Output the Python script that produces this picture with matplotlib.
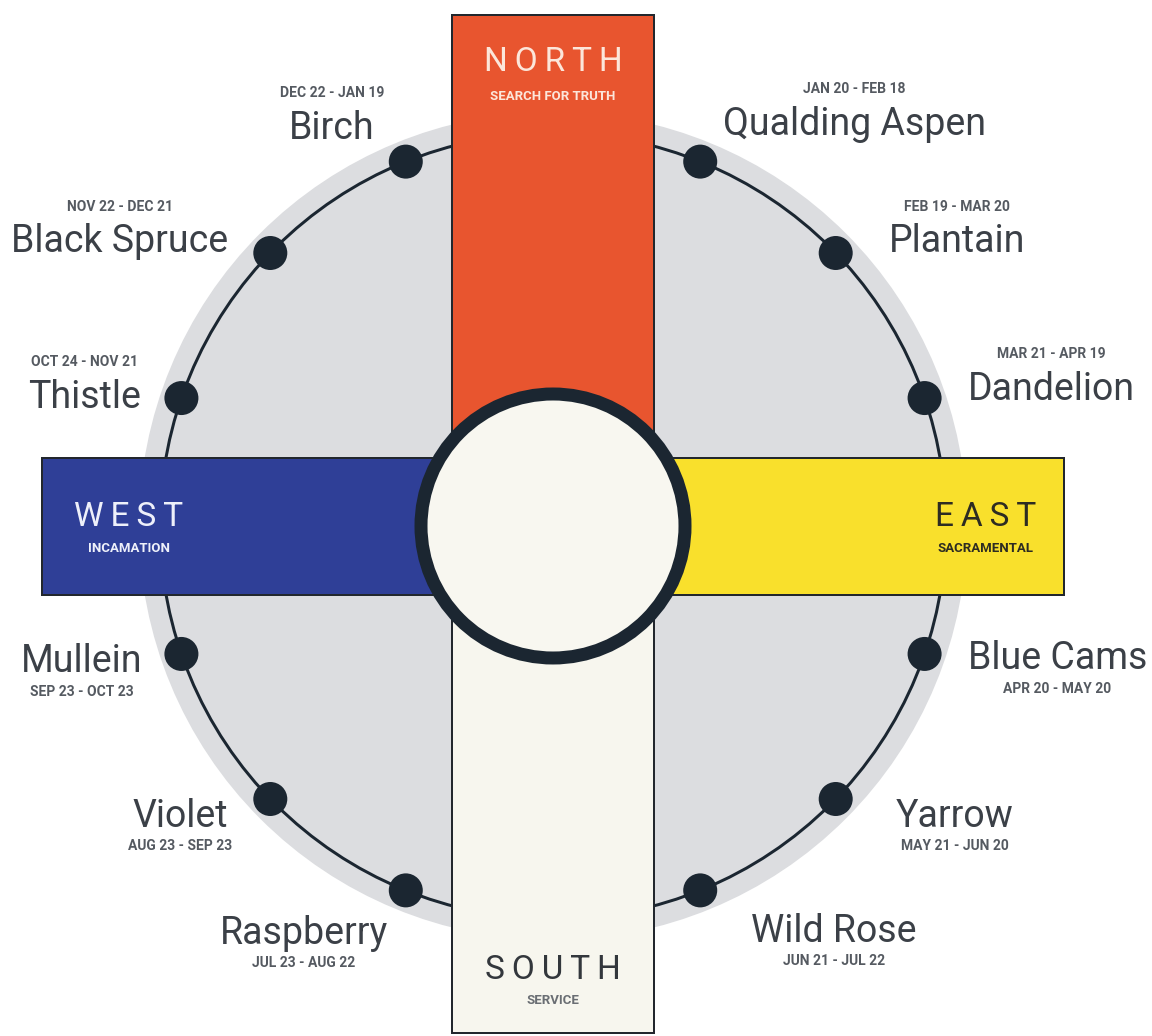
import numpy as np
import matplotlib
matplotlib.use('Agg')
import matplotlib.pyplot as plt
from matplotlib.patches import Circle, Rectangle

plt.rcParams['font.family'] = ['Roboto', 'DejaVu Sans']

# --- data -------------------------------------------------------------
plants = ['Dandelion', 'Plantain', 'Qualding Aspen', 'Birch', 'Black Spruce', 'Thistle',
          'Mullein', 'Violet', 'Raspberry', 'Wild Rose', 'Yarrow', 'Blue Cams']
dates = ['MAR 21 - APR 19', 'FEB 19 - MAR 20', 'JAN 20 - FEB 18', 'DEC 22 - JAN 19',
         'NOV 22 - DEC 21', 'OCT 24 - NOV 21', 'SEP 23 - OCT 23', 'AUG 23 - SEP 23',
         'JUL 23 - AUG 22', 'JUN 21 - JUL 22', 'MAY 21 - JUN 20', 'APR 20 - MAY 20']
# angle of each plant on the wheel (deg, counter-clockwise from east)
angles = [19, 44, 68, 112, 136, 161, 199, 224, 248, 292, 316, 341]

directions = ['NORTH', 'WEST', 'EAST', 'SOUTH']
subtitles = ['SEARCH FOR TRUTH', 'INCAMATION', 'SACRAMENTAL', 'SERVICE']
dir_colors = ['#e8552f', '#2f3f97', '#f9e02c', '#f7f6ee']
dir_text = ['#fce6da', '#eef0fa', '#2d2c22', '#33373c']

# --- layout (pixels) ----------------------------------------------------
W, H = 1152, 1036
cx, cy = 553, 526
r_ring, r_gray, r_dot, r_hub = 393, 414, 17, 132
bar_w = 202      # vertical bar width
bar_h = 137      # horizontal bar height
arm = 511        # bar length from centre
dark = '#1b2631'

# name anchor offsets from each dot: (dx, dy, ha)
name_off = [(43, -9, 'left'), (53, -11, 'left'), (23, -37, 'left'),
            (-31, -33, 'right'), (-42, -11, 'right'), (-40, -1, 'right'),
            (-39, 8, 'right'), (-42, 17, 'right'), (-18, 43, 'right'),
            (51, 41, 'left'), (60, 17, 'left'), (43, 5, 'left')]


def spaced(s, sep='\u2009'):
    # crude letter spacing
    return sep.join(s)


fig = plt.figure(figsize=(W / 100, H / 100), dpi=100)
ax = fig.add_axes([0, 0, 1, 1])
ax.set_xlim(0, W)
ax.set_ylim(H, 0)
ax.axis('off')

px = 0.72  # points per pixel

# grey disc + ring
ax.add_patch(Circle((cx, cy), r_gray, facecolor='#dcdde0', edgecolor='none', zorder=1))
ax.add_patch(Circle((cx, cy), r_ring, fill=False, edgecolor=dark, lw=3 * px, zorder=2))

# plant dots and labels
a = np.radians(angles)
xs = cx + r_ring * np.cos(a)
ys = cy - r_ring * np.sin(a)
for i, name in enumerate(plants):
    ax.add_patch(Circle((xs[i], ys[i]), r_dot, facecolor=dark, edgecolor='none', zorder=3))
    dx, dy, ha = name_off[i]
    t = ax.text(xs[i] + dx, ys[i] + dy, name, ha=ha, va='center', fontsize=27,
                color='#3b4047', zorder=6)
    if ys[i] < cy:
        ax.annotate(dates[i], xy=(0.5, 1.0), xycoords=t, xytext=(0, 7),
                    textcoords='offset points', ha='center', va='bottom',
                    fontsize=10, fontweight='bold', color='#555a61', zorder=6)
    else:
        ax.annotate(dates[i], xy=(0.5, 0.0), xycoords=t, xytext=(0, -3),
                    textcoords='offset points', ha='center', va='top',
                    fontsize=10, fontweight='bold', color='#555a61', zorder=6)

# direction bars
bars = {
    'NORTH': (cx - bar_w / 2, cy - arm, bar_w, arm),
    'WEST': (cx - arm, cy - bar_h / 2, arm, bar_h),
    'EAST': (cx, cy - bar_h / 2, arm, bar_h),
    'SOUTH': (cx - bar_w / 2, cy, bar_w, arm - 4),
}
for k, d in enumerate(directions):
    x0, y0, w, h = bars[d]
    ax.add_patch(Rectangle((x0, y0), w, h, facecolor=dir_colors[k],
                           edgecolor='#22272d', lw=2 * px, zorder=4))

# centre hub
ax.add_patch(Circle((cx, cy), r_hub, facecolor='#f8f7f0', edgecolor=dark,
                    lw=13 * px, zorder=5))

# direction titles
title_pos = {
    'NORTH': (cx, 62, 96),
    'WEST': (129, 517, 549),
    'EAST': (986, 517, 549),
    'SOUTH': (cx, 970, 1001),
}
for k, d in enumerate(directions):
    x, yt, ys_ = title_pos[d]
    ax.text(x, yt, spaced(d), ha='center', va='center', fontsize=24,
            color=dir_text[k], zorder=6)
    sub_col = dir_text[k] if d != 'SOUTH' else '#6a6e73'
    ax.text(x, ys_, subtitles[k], ha='center', va='center', fontsize=9.5,
            fontweight='bold', color=sub_col, zorder=6)

plt.savefig('out.png', dpi=100, facecolor='white')
